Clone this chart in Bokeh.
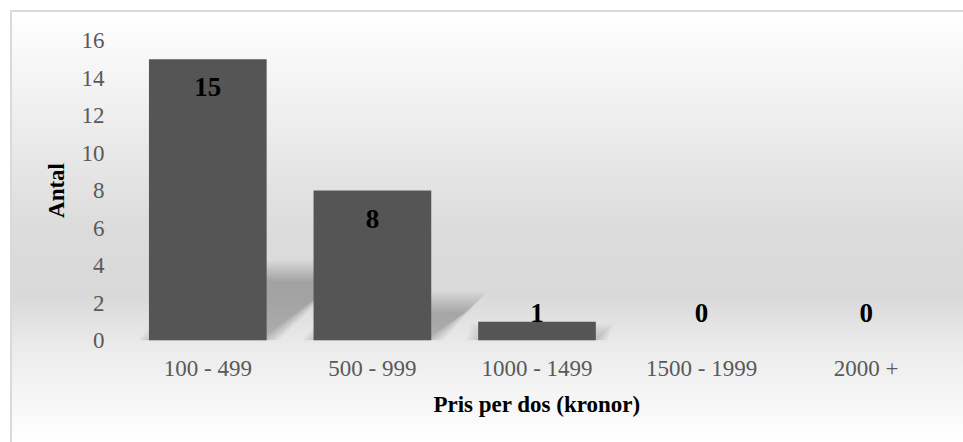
import numpy as np
from bokeh.plotting import figure
from bokeh.models import Range1d, FixedTicker, ColumnDataSource
from bokeh.core.properties import value
from bokeh.embed import file_html
from bokeh.resources import INLINE

# Price bands per dose and the number of products in each band
categories = ["100 - 499", "500 - 999", "1000 - 1499", "1500 - 1999", "2000 +"]
counts = [15, 8, 1, 0, 0]
y_ticks = [0, 2, 4, 6, 8, 10, 12, 14, 16]
y_tick_labels = ["0", "2", "4", "6", "8", "10", "12", "14", "16"]

x_title = "Pris per dos (kronor)"
y_title = "Antal"

SERIF = "Liberation Serif"
BAR_COLOR = "#555555"
BAR_WIDTH = 0.715

FRAME_W, FRAME_H = 823, 300
Y_MAX = 16

p = figure(
    width=953, height=432,
    x_range=Range1d(0, len(categories)), y_range=Range1d(0, Y_MAX),
    output_backend="svg", toolbar_location=None,
    min_border_left=115, min_border_right=15,
    min_border_top=30, min_border_bottom=102,
)
p.margin = (10, 0, 0, 10)
p.background_fill_color = None
p.border_fill_color = None
p.outline_line_color = None
p.styles = {
    "background": "linear-gradient(to bottom, #ffffff 0%, #ececec 28%, #dcdcdc 50%, "
                  "#d9d9d9 66%, #ebebeb 78%, #ffffff 100%)",
    "box-shadow": "inset 2px 2px 0 0 #dadada",
}
p.grid.visible = False

xc = np.arange(len(categories)) + 0.5
vals = np.array(counts, dtype=float)

# soft perspective shadows cast to the lower right of each bar,
# built from stacked translucent layers to fake a blur
px_x = len(categories) / FRAME_W   # data units per pixel, horizontal
px_y = Y_MAX / FRAME_H             # data units per pixel, vertical
SH_SCALE, SH_SKEW = 0.24, 1.2
for grow in range(12, -10, -2):
    xs, ys = [], []
    for c, v in zip(xc, vals):
        if v <= 0:
            continue
        sh = SH_SCALE * v
        dx = SH_SKEW * sh / px_y * px_x
        x0, x1 = c - BAR_WIDTH / 2, c + BAR_WIDTH / 2
        gx, gy = grow * px_x, grow * px_y
        xs.append([x0 - gx, x1 + gx, x1 + dx + gx, x0 + dx - gx])
        ys.append([0, 0, max(sh + gy, 0), max(sh + gy, 0)])
    p.patches(xs, ys, fill_color="black", fill_alpha=0.022, line_color=None)

src = ColumnDataSource(dict(
    x=xc, top=vals,
    label=[str(c) for c in counts],
    ly=np.maximum(vals - 1.5, 1.45),
))
p.vbar(x="x", top="top", bottom=0, width=BAR_WIDTH, source=src,
       fill_color=BAR_COLOR, line_color=None)
p.text(x="x", y="ly", text="label", source=src,
       text_font=value(SERIF), text_font_style="bold", text_font_size="27px",
       text_align="center", text_baseline="middle", text_color="black")

# axes
p.xaxis.ticker = FixedTicker(ticks=list(xc))
p.xaxis.major_label_overrides = {float(c): lab for c, lab in zip(xc, categories)}
p.yaxis.ticker = FixedTicker(ticks=y_ticks)
p.yaxis.major_label_overrides = {t: lab for t, lab in zip(y_ticks, y_tick_labels)}
for ax in (p.xaxis, p.yaxis):
    ax.axis_line_color = None
    ax.major_tick_line_color = None
    ax.minor_tick_line_color = None
    ax.major_tick_out = 0
    ax.major_tick_in = 0
    ax.major_label_text_font = SERIF
    ax.major_label_text_font_size = "23px"
    ax.major_label_text_color = "#595959"
    ax.axis_label_text_font = SERIF
    ax.axis_label_text_font_size = "23px"
    ax.axis_label_text_font_style = "bold"
    ax.axis_label_text_color = "black"
p.xaxis.axis_label = x_title
p.yaxis.axis_label = y_title
p.yaxis.major_label_standoff = 21
p.xaxis.major_label_standoff = 15
p.yaxis.axis_label_standoff = 10
p.xaxis.axis_label_standoff = 8

open("out.html", "w").write(file_html(p, INLINE))
